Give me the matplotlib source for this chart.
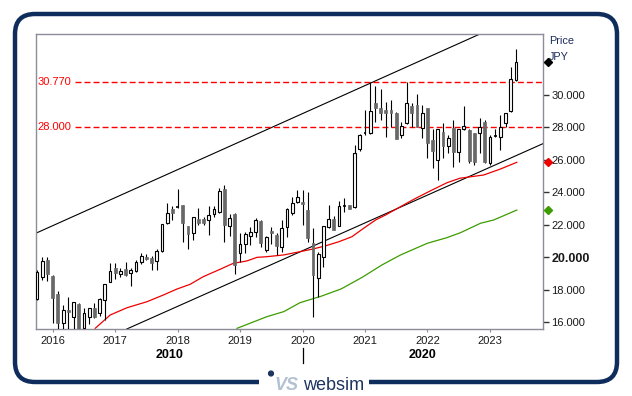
import numpy as np
import pandas as pd
import matplotlib
matplotlib.use('Agg')
import matplotlib.pyplot as plt
from matplotlib.patches import FancyBboxPatch, Rectangle, Circle
from matplotlib import transforms

plt.rcParams['font.family'] = ['Liberation Sans', 'DejaVu Sans']

# 月K线 2015-10 ~ 2023-06
months = pd.date_range('2015-10-01', periods=93, freq='MS')
opens = [17.45, 18.80, 19.83, 18.84, 17.72, 15.97, 16.75, 16.34, 17.10, 15.66, 16.34, 16.90,
         16.55, 17.37, 18.50, 19.32, 18.97, 19.25, 19.00, 19.15, 19.69, 20.03, 19.93, 19.77,
         20.38, 22.12, 22.98, 23.08, 23.21, 21.92, 21.47, 22.35, 22.33, 22.29, 22.64, 22.80,
         24.20, 21.92, 22.66, 20.24, 20.81, 21.32, 21.53, 22.23, 20.44, 21.60, 21.37, 20.61,
         21.84, 22.74, 23.42, 23.38, 22.90, 20.86, 18.70, 19.99, 21.88, 22.35, 21.94, 23.15,
         23.21, 23.11, 26.64, 27.62, 27.66, 29.51, 29.16, 29.06, 29.06, 28.89, 27.52, 28.24,
         29.30, 29.37, 27.93, 29.16, 27.21, 25.98, 27.72, 26.84, 27.93, 26.50, 27.87, 27.83,
         27.62, 27.62, 28.34, 25.78, 27.46, 27.38, 28.24, 29.02, 30.90]
highs = [19.20, 20.00, 20.00, 18.90, 17.92, 17.06, 17.57, 17.25, 17.20, 16.90, 16.90, 17.18,
         17.50, 18.35, 19.66, 19.66, 19.32, 19.70, 19.32, 19.83, 20.28, 20.20, 20.10, 20.49,
         22.05, 23.35, 23.15, 24.20, 23.21, 21.95, 22.49, 23.05, 22.49, 23.15, 23.15, 24.24,
         24.44, 22.64, 22.75, 21.47, 21.57, 21.88, 22.39, 22.29, 21.30, 21.88, 21.50, 22.29,
         23.00, 23.68, 24.14, 24.14, 24.03, 21.78, 20.34, 21.95, 23.21, 22.53, 23.46, 23.62,
         23.21, 26.90, 27.60, 29.05, 30.80, 30.54, 30.33, 29.57, 29.67, 28.95, 28.34, 30.80,
         29.51, 30.02, 29.37, 29.20, 27.87, 27.90, 28.24, 27.52, 28.44, 27.90, 29.30, 27.90,
         27.65, 28.55, 28.44, 27.52, 27.87, 28.75, 28.89, 31.69, 32.83]
lows = [17.35, 18.60, 18.55, 15.97, 15.40, 15.40, 15.40, 15.40, 15.30, 15.50, 15.87, 16.25,
        16.40, 16.13, 18.45, 18.64, 18.80, 18.85, 18.23, 19.10, 19.60, 19.80, 19.21, 19.21,
        20.30, 22.04, 22.29, 23.05, 20.95, 20.49, 21.06, 21.96, 21.98, 21.37, 22.50, 22.75,
        20.95, 21.32, 18.97, 19.72, 20.24, 20.75, 21.26, 20.65, 20.30, 20.81, 20.14, 20.34,
        21.26, 22.60, 23.35, 21.98, 20.95, 16.34, 17.57, 19.42, 21.80, 21.67, 21.90, 22.80,
        22.97, 23.05, 26.55, 27.50, 27.60, 28.34, 28.44, 27.42, 28.03, 27.29, 27.32, 28.20,
        28.03, 27.99, 27.32, 26.09, 25.47, 24.75, 26.09, 26.39, 25.57, 25.88, 27.85, 25.78,
        25.67, 26.39, 25.78, 25.67, 27.40, 26.60, 27.99, 28.95, 30.85]
closes = [19.11, 19.77, 18.97, 17.50, 15.97, 16.75, 16.65, 17.22, 15.50, 16.55, 16.86, 16.34,
          17.43, 18.33, 19.15, 19.05, 19.15, 18.90, 19.20, 19.69, 20.07, 19.90, 19.62, 20.38,
          22.04, 22.74, 22.74, 23.12, 22.09, 21.43, 22.45, 22.12, 22.09, 22.60, 22.95, 24.09,
          21.98, 22.39, 19.52, 20.81, 21.43, 21.57, 22.29, 20.86, 21.26, 21.50, 20.69, 21.78,
          22.97, 23.32, 23.68, 23.27, 21.16, 18.90, 20.18, 21.92, 22.33, 21.67, 23.15, 23.19,
          22.97, 26.43, 27.52, 27.70, 29.02, 29.20, 28.86, 28.89, 28.86, 27.29, 28.07, 29.47,
          28.89, 27.99, 28.86, 27.01, 26.55, 27.87, 26.84, 27.32, 26.46, 27.87, 28.07, 25.94,
          25.88, 27.99, 25.88, 27.38, 27.50, 27.99, 28.89, 30.95, 32.01]

# 移动平均线 (年份小数, 价格)
red_ma_t = [2016.68, 2016.92, 2017.19, 2017.51, 2017.77, 2017.99, 2018.20, 2018.41, 2018.63,
            2018.89, 2019.11, 2019.27, 2019.43, 2019.70, 2019.96, 2020.15, 2020.36, 2020.58,
            2020.79, 2021.00, 2021.17, 2021.33, 2021.78, 2022.05, 2022.31, 2022.52, 2022.90,
            2023.17, 2023.43]
red_ma_v = [15.62, 16.44, 16.89, 17.26, 17.67, 18.04, 18.33, 18.80, 19.17,
            19.62, 19.77, 19.99, 20.03, 20.14, 20.34, 20.49, 20.69, 20.95,
            21.26, 21.84, 22.29, 22.60, 23.56, 24.09, 24.58, 24.86, 25.06,
            25.43, 25.84]
green_ma_t = [2018.95, 2019.43, 2019.70, 2019.96, 2020.30, 2020.62, 2020.95, 2021.27, 2021.57,
              2022.00, 2022.31, 2022.53, 2022.85, 2023.06, 2023.43]
green_ma_v = [15.62, 16.34, 16.65, 17.20, 17.60, 18.05, 18.75, 19.52, 20.14,
              20.86, 21.20, 21.51, 22.09, 22.29, 22.90]

# 趋势通道
upper_t = [2015.728, 2022.83]
upper_v = [21.47, 33.72]
lower_t = [2017.186, 2023.862]
lower_v = [15.58, 27.01]

levels = [30.77, 28.0]
level_labels = ['30.770', '28.000']
price_ticks = [16, 18, 20, 22, 24, 26, 28, 30]
year_ticks = [2016, 2017, 2018, 2019, 2020, 2021, 2022, 2023]

xmin, xmax = 2015.728, 2023.85
ymin, ymax = 15.58, 33.72

fig = plt.figure(figsize=(6.32, 3.96), dpi=100)
fig.patch.set_facecolor('white')

# 外框 (像素坐标)
ov = fig.add_axes([0, 0, 1, 1], zorder=0)
ov.set_xlim(0, 632)
ov.set_ylim(396, 0)
ov.axis('off')
navy = '#0e2d5c'
ov.add_patch(FancyBboxPatch((15, 14), 602, 368, boxstyle='round,pad=0,rounding_size=20',
                            fill=False, ec=navy, lw=3.2))
ov.add_patch(Rectangle((259, 376), 110, 12, fc='white', ec='none', zorder=3))
ov.add_patch(Circle((271, 373.5), 2.4, color='#1d3461', zorder=4))
ov.text(275, 390, 'VS', fontsize=13, style='italic', weight='bold', color='#b3c1d3',
        va='baseline', ha='left', zorder=4)
ov.text(303, 390, 'websim', fontsize=13, color='#1d3461', va='baseline', ha='left', zorder=4)

ax = fig.add_axes([0.0565, 0.1692, 0.8027, 0.7442], zorder=1)
ax.set_xlim(xmin, xmax)
ax.set_ylim(ymin, ymax)

t = months.year + (months.month - 1) / 12.0
w = 0.045
for ti, o, h, l, c in zip(t, opens, highs, lows, closes):
    ax.vlines(ti, l, h, color='black', lw=0.8, zorder=3)
    if abs(c - o) < 0.1:
        ax.hlines((o + c) / 2, ti - w / 2, ti + w / 2, color='black', lw=1.2, zorder=4)
    elif c > o:
        ax.add_patch(Rectangle((ti - w / 2, o), w, c - o, fc='white', ec='black', lw=0.8, zorder=4))
    else:
        ax.add_patch(Rectangle((ti - w / 2, c), w, o - c, fc='#686868', ec='#686868', lw=0.5, zorder=4))

ax.plot(upper_t, upper_v, color='black', lw=0.8, zorder=2)
ax.plot(lower_t, lower_v, color='black', lw=0.8, zorder=2)
ax.plot(red_ma_t, red_ma_v, color='#ee0000', lw=0.9, zorder=2)
ax.plot(green_ma_t, green_ma_v, color='#3c9c00', lw=0.9, zorder=2)

ytrans = transforms.blended_transform_factory(ax.transAxes, ax.transData)
for lv, lab in zip(levels, level_labels):
    ax.plot([0.0775, 1], [lv, lv], transform=ytrans, color='#ff0000', lw=1,
            dashes=(4.3, 2.2), zorder=2)
    ax.text(0.004, lv, lab, transform=ytrans, color='#ff0000', fontsize=8, va='center', ha='left')

# 右侧最新值标记
ax.plot([1.0105], [closes[-1]], marker='D', color='black', ms=4.5, transform=ytrans, clip_on=False, zorder=5)
ax.plot([1.0105], [red_ma_v[-1]], marker='D', color='#ee0000', ms=4.5, transform=ytrans, clip_on=False, zorder=5)
ax.plot([1.0105], [green_ma_v[-1]], marker='D', color='#3c9c00', ms=4.5, transform=ytrans, clip_on=False, zorder=5)

for s in ax.spines.values():
    s.set_color('#8c8c9a')
    s.set_linewidth(1)

ax.yaxis.tick_right()
ax.set_yticks(price_ticks)
ax.set_yticklabels(['%.3f' % v for v in price_ticks])
ax.tick_params(axis='y', length=4, width=1, color='#333333', pad=2, labelsize=8, labelcolor='#1a1a1a')
for lab in ax.get_yticklabels():
    if lab.get_text() == '20.000':
        lab.set_fontweight('bold')
        lab.set_fontsize(9)

ax.set_xticks(year_ticks)
ax.set_xticklabels([str(y) for y in year_ticks])
ax.tick_params(axis='x', length=2, width=0.8, color='#8c8c9a', pad=3, labelsize=8, labelcolor='#1a1a1a')

ax.text(1.0118, 0.977, 'Price', transform=ax.transAxes, fontsize=7.8, color='#1c2a5c', va='center', ha='left')
ax.text(1.0118, 0.923, 'JPY', transform=ax.transAxes, fontsize=7.8, color='#1c2a5c', va='center', ha='left')

# 年代标签
xtrans = transforms.blended_transform_factory(ax.transData, ax.transAxes)
ax.text((xmin + 2020) / 2, -0.088, '2010', transform=xtrans, fontsize=9, weight='bold',
        ha='center', va='center')
ax.text((2020 + xmax) / 2, -0.088, '2020', transform=xtrans, fontsize=9, weight='bold',
        ha='center', va='center')
ax.plot([2020, 2020], [-0.064, -0.115], transform=xtrans, color='black', lw=0.9, clip_on=False)

fig.savefig('out.png', dpi=100)
